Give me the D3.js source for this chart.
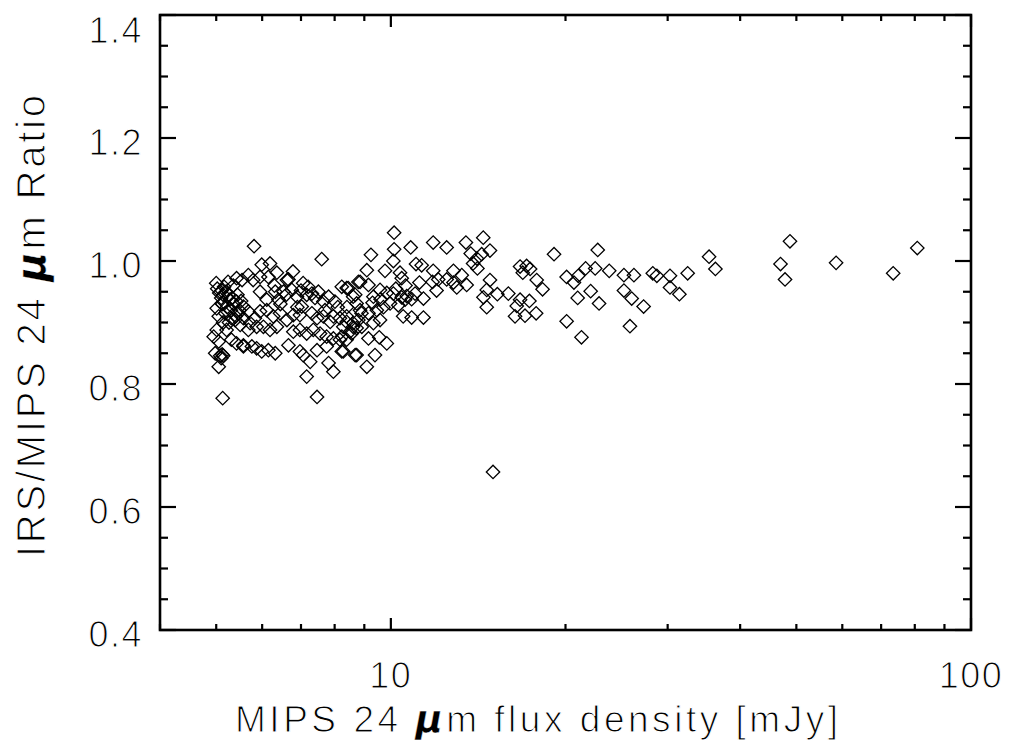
<!DOCTYPE html>
<html>
<head>
<meta charset="utf-8">
<script src="https://cdn.jsdelivr.net/npm/d3@7"></script>
<style>
body { margin: 0; background: #fff; }
text { font-family: "Liberation Sans", Arial, sans-serif; fill: #000; stroke: #fff; stroke-width: 1.1px; }
</style>
</head>
<body>
<div id="chart"></div>
<script>
// MIPS 24um flux density [mJy] and IRS/MIPS ratio
var flux = [
	5.81,7.60,5.99,6.19,6.36,6.78,7.06,6.66,5.00,5.11,5.14,5.24,5.42,5.54,5.68,5.79,5.95,6.15,5.95,6.11,6.32,6.40,6.53,6.62,6.75,6.89,7.02,7.16,7.31,7.50,7.65,7.81,8.01,8.23,8.44,8.61,8.79,8.73,
	5.01,5.11,5.28,5.42,5.57,5.68,5.46,5.31,5.57,5.50,5.39,5.72,5.83,5.95,6.11,6.27,6.44,6.62,6.79,6.97,7.31,7.46,7.65,7.86,7.96,8.17,8.39,8.61,8.79,
	4.95,5.01,5.05,5.21,5.31,5.42,5.57,5.68,5.87,6.03,6.19,6.36,6.79,6.97,7.16,7.35,7.55,7.75,7.96,8.23,8.39,8.56,8.73,
	4.98,5.08,5.14,5.57,5.76,5.87,5.99,6.15,6.32,6.66,6.97,7.06,7.26,7.46,7.75,7.81,7.96,8.23,8.68,5.05,7.16,5.13,7.46,
	10.13,10.82,11.83,12.48,13.47,14.43,14.82,10.13,10.10,9.24,9.09,9.77,11.05,11.30,10.37,10.44,11.83,12.82,13.25,13.73,14.07,14.34,13.86,14.10,11.80,12.07,11.99,12.48,12.99,13.51,12.82,
	14.82,14.63,15.26,14.63,14.44,15.94,16.70,17.14,16.88,17.38,17.84,16.70,16.48,17.33,16.37,17.03,17.80,
	8.39,8.68,8.85,9.15,9.33,9.58,9.84,10.10,10.44,10.65,10.86,11.01,11.38,
	8.85,9.15,9.46,9.71,9.97,10.30,10.58,
	8.39,8.61,8.28,8.50,8.91,9.33,9.58,10.50,10.86,11.38,
	9.15,9.55,9.84,8.73,9.39,9.09,8.28,8.17,
	19.11,22.73,35.36,36.26,18.26,20.09,21.04,20.68,21.66,22.50,23.79,25.22,26.24,28.28,28.74,30.28,32.48,30.28,31.43,22.10,20.99,22.85,25.22,26.01,27.27,20.09,21.31,25.83,
	48.75,46.95,47.80,58.54,73.43,80.8,15.0,
	5.02,5.06,5.10,5.16,5.20,5.25,5.12,5.22,5.33,5.36,5.30,5.18,5.44,5.48,5.40,5.26,5.14,5.05,5.35,5.52,5.10,5.12,
	7.0,7.2,7.4,6.6,6.3,6.45,6.9,7.7,8.1,8.4,8.9,9.3,9.6,10.2,10.6,11.2
];
var ratio = [
	1.024,1.003,0.994,0.996,0.981,0.983,0.964,0.970,0.964,0.952,0.945,0.966,0.972,0.969,0.977,0.969,0.974,0.974,0.950,0.937,0.950,0.937,0.950,0.969,0.953,0.942,0.926,0.945,0.947,0.950,0.934,0.942,0.934,0.958,0.956,0.942,0.966,0.931,
	0.923,0.931,0.937,0.934,0.926,0.918,0.915,0.907,0.907,0.896,0.904,0.899,0.907,0.918,0.920,0.910,0.915,0.904,0.912,0.912,0.915,0.907,0.910,0.901,0.910,0.907,0.901,0.893,0.904,
	0.877,0.888,0.869,0.888,0.872,0.866,0.863,0.888,0.893,0.893,0.888,0.893,0.885,0.888,0.882,0.888,0.882,0.877,0.874,0.877,0.872,0.882,0.891,
	0.850,0.846,0.846,0.861,0.861,0.858,0.853,0.855,0.850,0.863,0.853,0.847,0.836,0.855,0.861,0.834,0.820,0.853,0.847,0.828,0.812,0.777,0.779,
	1.046,1.022,1.030,1.022,1.030,1.038,1.017,1.019,1.000,1.010,0.985,0.984,0.995,0.993,0.981,0.972,0.984,0.984,0.977,1.012,1.004,1.011,0.996,0.988,0.966,0.970,0.952,0.970,0.957,0.961,0.965,
	0.969,0.953,0.946,0.925,0.941,0.947,0.991,0.992,0.981,0.987,0.969,0.937,0.927,0.935,0.910,0.911,0.915,
	0.956,0.945,0.966,0.961,0.942,0.953,0.948,0.947,0.941,0.943,0.938,0.947,0.939,
	0.920,0.915,0.920,0.925,0.931,0.928,0.937,
	0.910,0.899,0.893,0.885,0.893,0.899,0.904,0.910,0.908,0.908,
	0.874,0.876,0.866,0.847,0.847,0.828,0.853,0.872,
	1.011,1.018,1.007,0.987,0.954,0.974,0.976,0.965,0.988,0.988,0.984,0.977,0.977,0.980,0.976,0.976,0.980,0.957,0.946,0.951,0.940,0.931,0.952,0.939,0.926,0.902,0.876,0.894,
	1.032,0.995,0.970,0.997,0.980,1.021,0.657,
	0.955,0.948,0.940,0.958,0.950,0.945,0.930,0.925,0.940,0.930,0.920,0.915,0.945,0.920,0.910,0.900,0.900,0.910,0.960,0.935,0.842,0.848,
	0.952,0.958,0.940,0.945,0.960,0.930,0.925,0.920,0.925,0.925,0.915,0.932,0.938,0.955,0.960,0.965
];

var xMajor = [10, 100];
var xMajorLabels = ["10", "100"];
var xMinor = [4, 5, 6, 7, 8, 9, 20, 30, 40, 50, 60, 70, 80, 90];
var yMajor = [0.4, 0.6, 0.8, 1.0, 1.2, 1.4];
var yMajorLabels = ["0.4", "0.6", "0.8", "1.0", "1.2", "1.4"];
var xDomain = [4, 100];
var yDomain = [0.4, 1.4];

var width = 1014;
var height = 755;
var plotLeft = 160, plotRight = 971, plotTop = 15, plotBottom = 630;

var svg;
var xScale;
var yScale;

function drawPlot() {
	svg = d3.select("#chart")
			.append("svg")
			.attr("width", width)
			.attr("height", height);

	xScale = d3.scaleLog().domain(xDomain).range([plotLeft, plotRight]);
	yScale = d3.scaleLinear().domain(yDomain).range([plotBottom, plotTop]);

	var yMinor = d3.range(0.4, 1.4001, 0.05).map(function(d) { return +d.toFixed(2); });

	var ticks = svg.append("g")
			.attr("stroke", "#000")
			.attr("stroke-width", 2.2);

	// left and right ticks
	yMinor.forEach(function(v) {
		var major = yMajor.some(function(m) { return Math.abs(m - v) < 1e-6; });
		var len = major ? 16 : 8;
		var y = yScale(v);
		ticks.append("line").attr("x1", plotLeft).attr("x2", plotLeft + len).attr("y1", y).attr("y2", y);
		ticks.append("line").attr("x1", plotRight).attr("x2", plotRight - len).attr("y1", y).attr("y2", y);
	});

	// bottom and top ticks
	xMinor.concat(xMajor).forEach(function(v) {
		var len = xMajor.indexOf(v) >= 0 ? 12 : 6;
		var x = xScale(v);
		ticks.append("line").attr("x1", x).attr("x2", x).attr("y1", plotBottom).attr("y2", plotBottom - len);
		ticks.append("line").attr("x1", x).attr("x2", x).attr("y1", plotTop).attr("y2", plotTop + len);
	});

	svg.append("rect")
		.attr("x", plotLeft)
		.attr("y", plotTop)
		.attr("width", plotRight - plotLeft)
		.attr("height", plotBottom - plotTop)
		.attr("fill", "none")
		.attr("stroke", "#000")
		.attr("stroke-width", 2.6);

	// y tick labels
	svg.selectAll(".ylab")
		.data(yMajor)
		.enter()
		.append("text")
		.attr("class", "ylab")
		.attr("x", 143)
		.attr("y", function(d) { return Math.max(yScale(d) + 17, 43); })
		.attr("text-anchor", "end")
		.attr("font-size", 36)
		.attr("letter-spacing", 1.5)
		.text(function(d, i) { return yMajorLabels[i]; });

	// x tick labels
	svg.selectAll(".xlab")
		.data(xMajor)
		.enter()
		.append("text")
		.attr("class", "xlab")
		.attr("x", function(d) { return xScale(d); })
		.attr("y", plotBottom + 58)
		.attr("text-anchor", "middle")
		.attr("font-size", 36)
		.attr("letter-spacing", 1.5)
		.text(function(d, i) { return xMajorLabels[i]; });

	// axis titles
	var xt = svg.append("text")
		.attr("x", 235)
		.attr("y", 732)
		.attr("font-size", 37)
		.attr("textLength", 603)
		.attr("lengthAdjust", "spacing");
	xt.append("tspan").text("MIPS 24 ");
	xt.append("tspan").attr("font-weight", "bold").attr("font-style", "italic")
		.attr("font-family", "DejaVu Sans").style("stroke-width", "0.4px").text("\u03bc");
	xt.append("tspan").text("m flux density [mJy]");

	var yt = svg.append("text")
		.attr("transform", "translate(45,557) rotate(-90)")
		.attr("font-size", 40)
		.attr("textLength", 462)
		.attr("lengthAdjust", "spacing");
	yt.append("tspan").text("IRS/MIPS 24 ");
	yt.append("tspan").attr("font-weight", "bold").attr("font-style", "italic")
		.attr("font-family", "DejaVu Sans").style("stroke-width", "0.4px").text("\u03bc");
	yt.append("tspan").text("m Ratio");

	// points
	var diamond = d3.symbol().type(d3.symbolSquare).size(90);
	svg.append("g")
		.selectAll("path")
		.data(flux)
		.enter()
		.append("path")
		.attr("d", diamond)
		.attr("transform", function(d, i) {
			return "translate(" + xScale(d) + "," + yScale(ratio[i]) + ") rotate(45)";
		})
		.attr("fill", "none")
		.attr("stroke", "#000")
		.attr("stroke-width", 1.3);
}

drawPlot();
</script>
</body>
</html>
